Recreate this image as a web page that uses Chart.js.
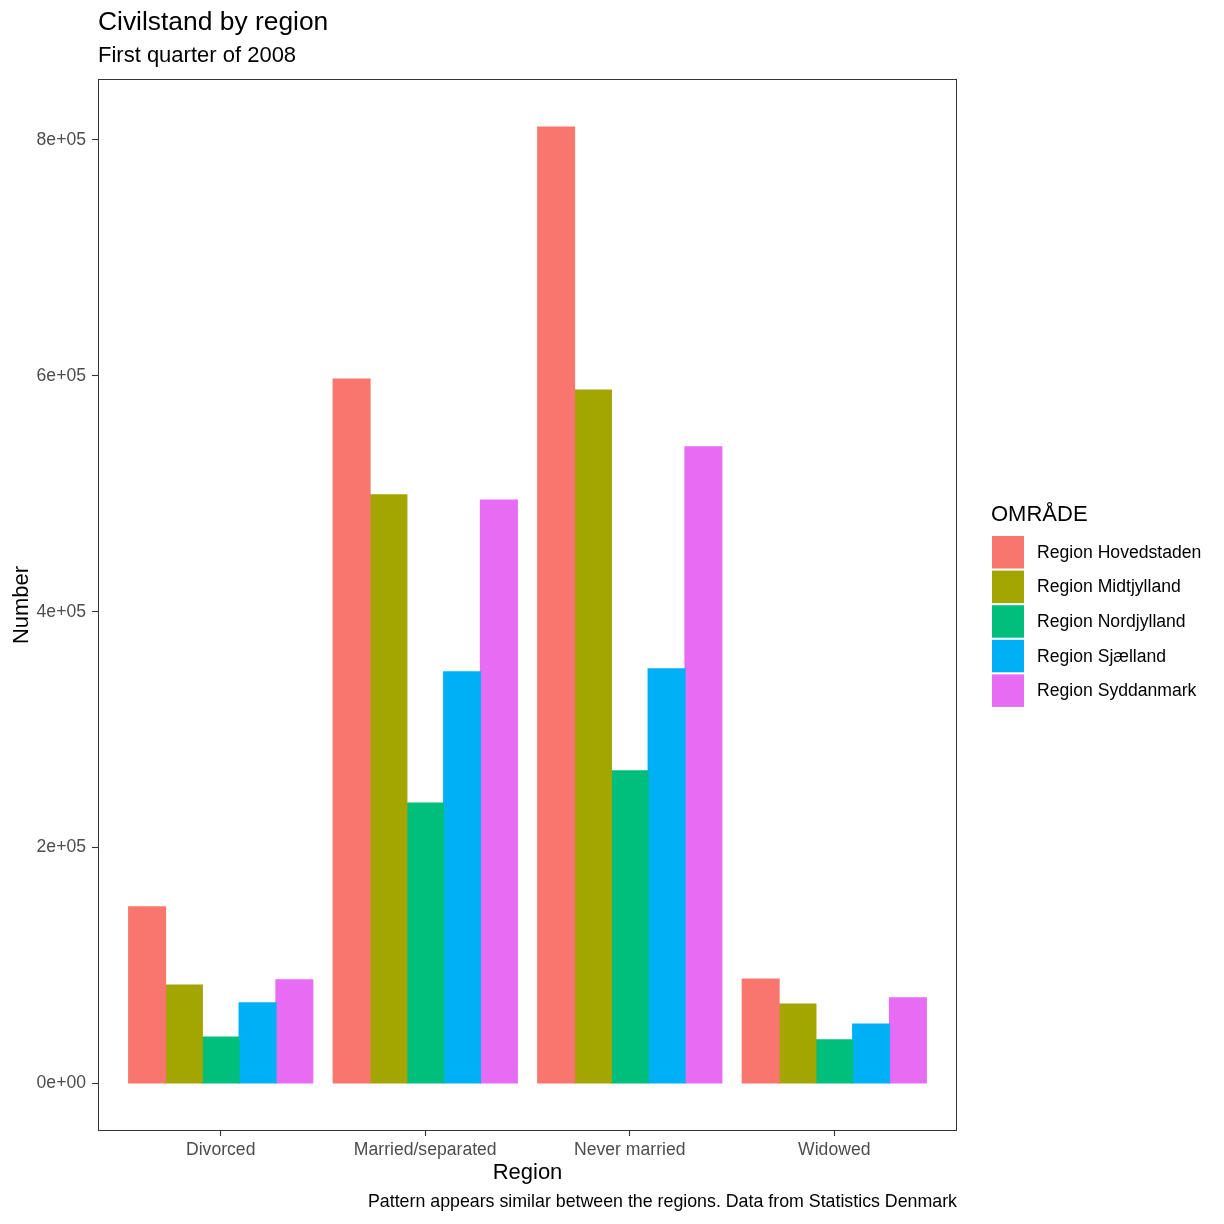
<!DOCTYPE html>
<html>
<head>
<meta charset="utf-8">
<script src="https://cdn.jsdelivr.net/npm/chart.js@4/dist/chart.umd.min.js"></script>
<style>
  body { margin: 0; background: #fff; }
  canvas { display: block; }
</style>
</head>
<body>
<canvas id="chart" width="1224" height="1224"></canvas>
<script>
// data
const categories = ['Divorced', 'Married/separated', 'Never married', 'Widowed'];
const regions = ['Region Hovedstaden', 'Region Midtjylland', 'Region Nordjylland', 'Region Sjælland', 'Region Syddanmark'];
const hovedstaden = [149700, 597300, 811000, 88600];
const midtjylland = [83500, 499000, 588000, 67400];
const nordjylland = [39400, 237800, 265000, 36900];
const sjaelland = [68300, 349000, 351600, 50400];
const syddanmark = [87800, 494700, 539700, 72500];
const yTicks = [0, 200000, 400000, 600000, 800000];

const seriesValues = [hovedstaden, midtjylland, nordjylland, sjaelland, syddanmark];
const colors = ['#F8766D', '#A3A500', '#00BF7D', '#00B0F6', '#E76BF3'];
const FONT = '"Liberation Sans", Arial, Helvetica, sans-serif';

function sci(v) {
  const parts = v.toExponential(0).split('e');
  const exp = parts[1];
  return parts[0] + 'e' + exp[0] + exp.slice(1).padStart(2, '0');
}

// titles, legend, panel border drawn by hand (ggplot look)
const decorations = {
  id: 'decorations',
  afterDraw(chart) {
    const ctx = chart.ctx;
    const area = chart.chartArea;
    ctx.save();

    ctx.strokeStyle = '#333333';
    ctx.lineWidth = 1;
    ctx.strokeRect(Math.round(area.left) + 0.5, Math.round(area.top) + 0.5,
      Math.round(area.right - area.left) - 1, Math.round(area.bottom - area.top) - 1);

    ctx.fillStyle = '#000';
    ctx.textAlign = 'left';
    ctx.textBaseline = 'alphabetic';
    ctx.font = '26.4px ' + FONT;
    ctx.fillText('Civilstand by region', 98, 30);
    ctx.font = '22px ' + FONT;
    ctx.fillText('First quarter of 2008', 98, 62);

    // axis titles
    ctx.textAlign = 'center';
    ctx.fillText('Region', (area.left + area.right) / 2, 1179);
    ctx.save();
    ctx.translate(28, (area.top + area.bottom) / 2);
    ctx.rotate(-Math.PI / 2);
    ctx.fillText('Number', 0, 0);
    ctx.restore();

    // caption
    ctx.textAlign = 'right';
    ctx.font = '17.8px ' + FONT;
    ctx.fillText('Pattern appears similar between the regions. Data from Statistics Denmark', area.right, 1207);

    // legend
    ctx.textAlign = 'left';
    ctx.font = '22px ' + FONT;
    ctx.fillText('OMRÅDE', 991, 521);
    ctx.font = '17.6px ' + FONT;
    ctx.textBaseline = 'middle';
    regions.forEach((name, i) => {
      const y = 536 + i * 34.6;
      ctx.fillStyle = colors[i];
      ctx.fillRect(992, y, 32, 32.5);
      ctx.fillStyle = '#000';
      ctx.fillText(name, 1037, y + 17);
    });
    ctx.restore();
  }
};

new Chart(document.getElementById('chart'), {
  type: 'bar',
  data: {
    datasets: regions.map((name, i) => ({
      label: name,
      data: seriesValues[i].map((v, j) => ({ x: j, y: v })),
      backgroundColor: colors[i],
      borderWidth: 0,
      inflateAmount: 0.6,
      categoryPercentage: 0.9,
      barPercentage: 1.0
    }))
  },
  options: {
    responsive: false,
    animation: false,
    layout: { padding: { top: 79, right: 267, bottom: 0, left: 0 } },
    plugins: {
      legend: { display: false },
      tooltip: { enabled: false },
      title: { display: false }
    },
    scales: {
      x: {
        type: 'linear',
        min: -0.6,
        max: 3.6,
        offset: false,
        afterBuildTicks: (scale) => { scale.ticks = categories.map((c, i) => ({ value: i })); },
        afterFit: (scale) => { scale.height = 93; },
        grid: { offset: false, drawOnChartArea: false, drawTicks: true, tickLength: 5, tickColor: '#333333', tickWidth: 1.1 },
        border: { display: false },
        ticks: {
          autoSkip: false,
          maxRotation: 0,
          padding: 4,
          color: '#4D4D4D',
          font: { family: FONT, size: 17.6 },
          callback: (v) => categories[Math.round(v)]
        }
      },
      y: {
        min: -40300,
        max: 851700,
        afterBuildTicks: (scale) => { scale.ticks = yTicks.map(v => ({ value: v })); },
        afterFit: (scale) => { scale.width = 98; },
        grid: { drawOnChartArea: false, drawTicks: true, tickLength: 6, tickColor: '#333333', tickWidth: 1.1 },
        border: { display: false },
        ticks: {
          padding: 6,
          color: '#4D4D4D',
          font: { family: FONT, size: 17.6 },
          callback: (v) => sci(v)
        }
      }
    }
  },
  plugins: [decorations]
});
</script>
</body>
</html>
